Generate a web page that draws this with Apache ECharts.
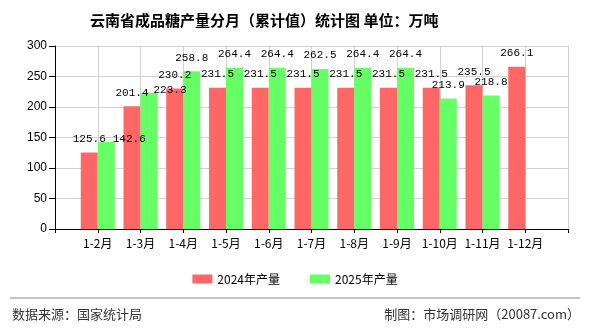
<!DOCTYPE html>
<html>
<head>
<meta charset="utf-8">
<script src="https://cdn.jsdelivr.net/npm/echarts@6/dist/echarts.min.js"></script>
<style>
  html, body { margin: 0; padding: 0; background: #fff; }
  #main { width: 590px; height: 330px; }
</style>
</head>
<body>
<div id="main"></div>
<script>
// 月份（累计）
var months = ['1-2月', '1-3月', '1-4月', '1-5月', '1-6月', '1-7月', '1-8月', '1-9月', '1-10月', '1-11月', '1-12月'];
// 2024年产量 万吨
var output2024 = [125.6, 201.4, 230.2, 231.5, 231.5, 231.5, 231.5, 231.5, 231.5, 235.5, 266.1];
// 2025年产量 万吨
var output2025 = [142.6, 223.3, 258.8, 264.4, 264.4, 262.5, 264.4, 264.4, 213.9, 218.8, null];
var yTicks = [0, 50, 100, 150, 200, 250, 300];

var chart = echarts.init(document.getElementById('main'));

// axis has an empty slot on both ends, bars sit on the ticks
var axisData = [''].concat(months, ['']);
function pad(arr) {
  return [null].concat(arr, [null]);
}

// a couple of labels in the original were pushed aside to avoid overlap
var nudge2025 = { 0: [23, 11], 1: [21, 11] };
var data2025 = pad(output2025).map(function (v, i) {
  var n = nudge2025[i - 1];
  if (!n || v == null) return v;
  return { value: v, label: { offset: n } };
});

var labelStyle = {
  show: true,
  position: 'top',
  distance: 8,
  color: '#000',
  fontSize: 11,
  fontFamily: 'Liberation Mono',
  formatter: function (p) { return p.value == null ? '' : p.value.toFixed(1); }
};

chart.setOption({
  animation: false,
  title: {
    text: '云南省成品糖产量分月（累计值）统计图 单位：万吨',
    left: 85,
    top: 8,
    textStyle: { fontSize: 15, fontWeight: 'bold', color: '#000', fontFamily: 'Noto Sans CJK SC' }
  },
  color: ['#ff6666', '#66ff66'],
  legend: {
    top: 268,
    left: 'center',
    itemWidth: 20,
    itemHeight: 9,
    itemGap: 30,
    icon: 'rect',
    textStyle: { fontSize: 12, color: '#000', fontFamily: 'Noto Sans CJK SC' },
    data: ['2024年产量', '2025年产量']
  },
  grid: { left: 55, right: 22, top: 46, bottom: 101 },
  xAxis: {
    type: 'category',
    boundaryGap: false,
    data: axisData,
    axisLine: { lineStyle: { color: '#000', width: 1 } },
    axisTick: { show: true, length: 4, interval: 0, lineStyle: { color: '#000' } },
    axisLabel: { interval: 0, margin: 8, color: '#000', fontSize: 12, fontFamily: 'Noto Sans CJK SC' },
    splitLine: { show: true, interval: 0, lineStyle: { color: '#d0d0d0' } }
  },
  yAxis: {
    type: 'value',
    min: yTicks[0],
    max: yTicks[yTicks.length - 1],
    interval: 50,
    axisLine: { show: true, lineStyle: { color: '#000' } },
    axisTick: { show: true, length: 6, lineStyle: { color: '#000' } },
    axisLabel: { color: '#000', fontSize: 12, fontFamily: 'Liberation Sans' },
    splitLine: { lineStyle: { color: '#d0d0d0' } }
  },
  series: [
    {
      name: '2024年产量',
      type: 'bar',
      barWidth: 17,
      barGap: 0,
      label: labelStyle,
      data: pad(output2024)
    },
    {
      name: '2025年产量',
      type: 'bar',
      barWidth: 17,
      barGap: 0,
      label: labelStyle,
      data: data2025
    }
  ],
  graphic: [
    {
      type: 'line',
      shape: { x1: 10, y1: 298, x2: 580, y2: 298 },
      style: { stroke: '#888', lineWidth: 1 }
    },
    {
      type: 'text',
      left: 12,
      top: 308,
      style: { text: '数据来源：国家统计局', fontSize: 13, fill: '#333', fontFamily: 'Noto Sans CJK SC' }
    },
    {
      type: 'text',
      right: 10,
      top: 308,
      style: { text: '制图：市场调研网（20087.com）', fontSize: 13, fill: '#333', fontFamily: 'Noto Sans CJK SC' }
    }
  ]
});
</script>
</body>
</html>
